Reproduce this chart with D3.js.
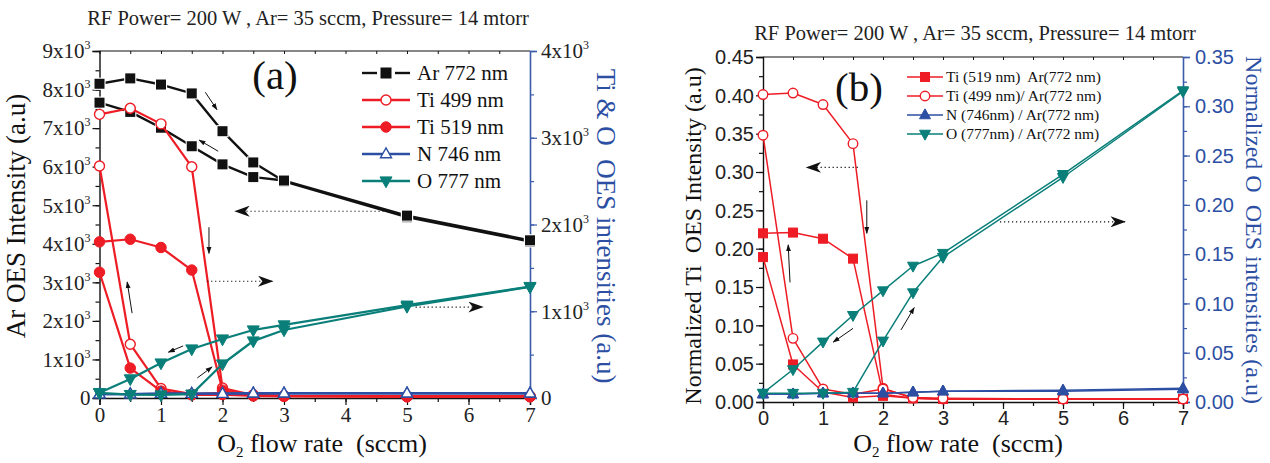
<!DOCTYPE html>
<html><head><meta charset="utf-8">
<script src="https://cdn.jsdelivr.net/npm/d3@7/dist/d3.min.js"></script>
<style>body{margin:0;background:#fff}svg{display:block}</style>
</head><body>
<svg id="c" width="1270" height="463" xmlns="http://www.w3.org/2000/svg"></svg>
<script>
// ---------------- DATA ----------------
const flow = [0, 0.5, 1, 1.5, 2, 2.5, 3, 5, 7];           // O2 flow rate (sccm)
const xTicks = [0, 1, 2, 3, 4, 5, 6, 7];
const titleText = "RF Power= 200 W , Ar= 35 sccm, Pressure= 14 mtorr";

// Panel (a): Ar on left axis, Ti/N/O on right axis (absolute intensities, a.u.)
const arInc    = [8150, 8290, 8130, 7900, 6920, 6110, 5620, 4690, 4060];
const arDec    = [7660, 7420, 7010, 6530, 6060, 5730, 5640, 4730, 4090];
const ti499Inc = [3270, 3340, 3160, 2665, 115, 35, 25, 20, 20];
const ti499Dec = [2675, 620, 110, 45, 60, 35, 25, 20, 20];
const ti519Inc = [1800, 1830, 1735, 1475, 90, 25, 20, 15, 15];
const ti519Dec = [1450, 345, 80, 35, 40, 25, 20, 15, 15];
const n746Inc  = [45, 45, 50, 50, 50, 55, 55, 55, 55];
const n746Dec  = [45, 45, 50, 50, 50, 55, 55, 55, 55];
const o777Inc  = [60, 40, 35, 45, 392, 657, 784, 1055, 1280];
const o777Dec  = [60, 220, 403, 565, 680, 784, 842, 1070, 1285];
const aLeftTicks  = [0, 1000, 2000, 3000, 4000, 5000, 6000, 7000, 8000, 9000];
const aRightTicks = [0, 1000, 2000, 3000, 4000];
const aLegend = ["Ar 772 nm", "Ti 499 nm", "Ti 519 nm", "N 746 nm", "O 777 nm"];

// Panel (b): normalized ratios; Ti on left axis, N and O on right axis
const ti519nInc = [0.220, 0.221, 0.213, 0.187, 0.010, 0.005, 0.004, 0.004, 0.004];
const ti519nDec = [0.189, 0.049, 0.013, 0.006, 0.008, 0.005, 0.004, 0.004, 0.004];
const ti499nInc = [0.401, 0.403, 0.388, 0.337, 0.018, 0.005, 0.004, 0.004, 0.004];
const ti499nDec = [0.348, 0.083, 0.017, 0.010, 0.017, 0.006, 0.005, 0.004, 0.004];
const n746nInc  = [0.008, 0.008, 0.009, 0.009, 0.009, 0.010, 0.011, 0.011, 0.013];
const n746nDec  = [0.008, 0.008, 0.009, 0.009, 0.009, 0.010, 0.011, 0.012, 0.014];
const o777nInc  = [0.009, 0.009, 0.009, 0.010, 0.062, 0.111, 0.147, 0.228, 0.315];
const o777nDec  = [0.009, 0.033, 0.061, 0.088, 0.113, 0.138, 0.151, 0.231, 0.316];
const bLeftTicks  = [0, 0.05, 0.10, 0.15, 0.20, 0.25, 0.30, 0.35, 0.40, 0.45];
const bRightTicks = [0, 0.05, 0.10, 0.15, 0.20, 0.25, 0.30, 0.35];
const bLegend = ["Ti (519 nm)\u00a0 Ar(772 nm)", "Ti (499 nm)/ Ar(772 nm)", "N (746nm) / Ar(772 nm)", "O (777nm) / Ar(772 nm)"];

// Arrow annotations in data units [x1, y1(left axis), x2, y2, dotted]
const aArrows = [
  [1.72, 7930, 1.91, 7480, 0], [1.93, 6400, 1.62, 6690, 0],
  [4.62, 4845, 2.21, 4845, 1], [1.78, 4430, 1.78, 3750, 0],
  [1.75, 3030, 2.81, 3030, 1], [0.53, 2200, 0.45, 3010, 0],
  [1.36, 1350, 1.12, 1190, 0], [1.59, 520, 1.83, 805, 0],
  [5.14, 2358, 6.23, 2358, 1]
];
const bArrows = [
  [1.58, 0.306, 0.73, 0.306, 1], [1.73, 0.263, 1.73, 0.220, 0],
  [0.45, 0.156, 0.42, 0.205, 0], [1.50, 0.096, 1.17, 0.078, 0],
  [2.30, 0.094, 2.52, 0.123, 0], [3.95, 0.235, 6.03, 0.235, 1]
];

// ---------------- STYLE ----------------
const SERIF = "'Liberation Serif','Times New Roman',serif";
const SANS = "'Liberation Sans',Arial,sans-serif";
const RED = "#ee1c25", TEAL = "#0a7f79", BLUE = "#2c4fa3", AXB = "#3a5bab", BLK = "#111";

const svg = d3.select("#c");
const defs = svg.append("defs");
defs.append("marker").attr("id", "hs").attr("viewBox", "0 0 10 10").attr("refX", 9).attr("refY", 5)
  .attr("markerWidth", 7).attr("markerHeight", 7).attr("markerUnits", "userSpaceOnUse").attr("orient", "auto")
  .append("path").attr("d", "M0,1.5 L10,5 L0,8.5 Z").attr("fill", BLK);
defs.append("marker").attr("id", "hd").attr("viewBox", "0 0 14 10").attr("refX", 13).attr("refY", 5)
  .attr("markerWidth", 16).attr("markerHeight", 11).attr("markerUnits", "userSpaceOnUse").attr("orient", "auto")
  .append("path").attr("d", "M0,0 L14,5 L0,10 L4,5 Z").attr("fill", BLK);

function marker(g, shape, cx, cy, s, color, filled, gap) {
  let el;
  if (shape === "square") {
    el = g.append("rect").attr("x", cx - s / 2).attr("y", cy - s / 2).attr("width", s).attr("height", s);
  } else if (shape === "circle") {
    el = g.append("circle").attr("cx", cx).attr("cy", cy).attr("r", s / 2);
  } else {
    const h = s * 0.9, w = s, dir = shape === "triUp" ? 1 : -1;
    el = g.append("path").attr("d",
      `M${cx},${cy - dir * h * 0.62} L${cx + w / 2},${cy + dir * h * 0.38} L${cx - w / 2},${cy + dir * h * 0.38} Z`);
  }
  el.attr("fill", filled ? color : "#fff").attr("stroke", color).attr("stroke-width", filled ? 1 : 1.4);
  if (gap) el.attr("stroke", "#fff").attr("stroke-width", 2.2).attr("paint-order", "stroke").attr("fill", color);
  return el;
}

function drawSeries(g, x, y, branches, o) {
  const line = d3.line().x(d => x(d[0])).y(d => y(d[1]));
  branches.forEach(vals => {
    g.append("path").datum(flow.map((f, i) => [f, vals[i]])).attr("d", line)
      .attr("fill", "none").attr("stroke", o.color).attr("stroke-width", o.lw).attr("stroke-linejoin", "round");
  });
  branches.forEach(vals => {
    flow.forEach((f, i) => marker(g, o.shape, x(f), y(vals[i]), o.size, o.color, o.filled, o.gap));
  });
}

function drawArrows(g, x, y, arr) {
  arr.forEach(a => {
    g.append("line").attr("x1", x(a[0])).attr("y1", y(a[1])).attr("x2", x(a[2])).attr("y2", y(a[3]))
      .attr("stroke", BLK).attr("stroke-width", a[4] ? 1.1 : 1)
      .attr("stroke-dasharray", a[4] ? "1.2,2.8" : null)
      .attr("marker-end", a[4] ? "url(#hd)" : "url(#hs)");
  });
}

function frame(g, x, y, L, R, T, B, opts) {
  const minorX = d3.range(0, 7.01, 0.5);
  g.append("g").attr("transform", `translate(0,${B})`).call(d3.axisBottom(x).tickValues(minorX).tickSize(4).tickFormat(""))
    .call(s => { s.select(".domain").remove(); s.selectAll("line").attr("stroke", BLK).attr("stroke-width", 1.2); });
  const bx = g.append("g").attr("transform", `translate(0,${B})`)
    .call(d3.axisBottom(x).tickValues(xTicks).tickSize(7).tickPadding(2).tickFormat(d3.format("d")));
  bx.select(".domain").attr("stroke", BLK).attr("stroke-width", 1.4);
  bx.selectAll("line").attr("stroke", BLK).attr("stroke-width", 1.2);
  bx.selectAll("text").attr("font-family", opts.tickFont).attr("font-size", opts.tickSize).attr("fill", "#222");
  g.append("line").attr("x1", L).attr("x2", R).attr("y1", T).attr("y2", T).attr("stroke", BLK).attr("stroke-width", 1.2);
  g.append("g").attr("transform", `translate(0,${T})`).call(d3.axisTop(x).tickValues(minorX).tickSize(-3).tickFormat(""))
    .call(s => { s.select(".domain").remove(); s.selectAll("line").attr("stroke", BLK); });
}

function leftAxis(g, y, L, ticks, minor) {
  g.append("g").attr("transform", `translate(${L},0)`).call(d3.axisLeft(y).tickValues(minor).tickSize(4).tickFormat(""))
    .call(s => { s.select(".domain").remove(); s.selectAll("line").attr("stroke", BLK).attr("stroke-width", 1.2); });
  const a = g.append("g").attr("transform", `translate(${L},0)`).call(d3.axisLeft(y).tickValues(ticks).tickSize(7).tickFormat(""));
  a.select(".domain").attr("stroke", BLK).attr("stroke-width", 1.4);
  a.selectAll("line").attr("stroke", BLK).attr("stroke-width", 1.2);
}
function rightAxis(g, y, R, ticks, minor) {
  g.append("g").attr("transform", `translate(${R},0)`).call(d3.axisRight(y).tickValues(minor).tickSize(4).tickFormat(""))
    .call(s => { s.select(".domain").remove(); s.selectAll("line").attr("stroke", AXB).attr("stroke-width", 1.2); });
  const a = g.append("g").attr("transform", `translate(${R},0)`).call(d3.axisRight(y).tickValues(ticks).tickSize(7).tickFormat(""));
  a.select(".domain").attr("stroke", AXB).attr("stroke-width", 1.6);
  a.selectAll("line").attr("stroke", AXB).attr("stroke-width", 1.2);
}

function supLabel(g, xp, yp, v, anchor, color) {
  const t = g.append("text").attr("x", xp).attr("y", yp).attr("dy", "0.35em").attr("text-anchor", anchor)
    .attr("font-family", SERIF).attr("font-size", 21).attr("fill", color);
  if (v === 0) { t.text("0"); return; }
  t.append("tspan").text(`${v / 1000}x10`);
  t.append("tspan").attr("dy", -9).attr("font-size", 12).text("3");
}

function xTitle(g, cx, by) {
  const t = g.append("text").attr("x", cx).attr("y", by).attr("text-anchor", "middle")
    .attr("font-family", SERIF).attr("font-size", 26).attr("fill", "#111");
  t.append("tspan").text("O");
  t.append("tspan").attr("dy", 5).attr("font-size", 15).text("2");
  t.append("tspan").attr("dy", -5).text("\u00a0flow rate \u00a0(sccm)");
}

// ================= PANEL (a) =================
{
  const L = 99.5, R = 530, T = 51, B = 398;
  const g = svg.append("g");
  const x = d3.scaleLinear().domain([0, 7]).range([L, R]);
  const yL = d3.scaleLinear().domain([0, 9000]).range([B, T]);
  const yR = d3.scaleLinear().domain([0, 4000]).range([B, T]);

  g.append("text").attr("x", 308).attr("y", 25).attr("text-anchor", "middle").attr("font-family", SERIF)
    .attr("font-size", 20.5).attr("fill", "#222").text(titleText);

  frame(g, x, yL, L, R, T, B, { tickFont: SERIF, tickSize: 21 });
  leftAxis(g, yL, L, aLeftTicks, d3.range(0, 9001, 500));
  rightAxis(g, yR, R, aRightTicks, d3.range(0, 4001, 500));
  aLeftTicks.forEach(v => supLabel(g, L - 9, yL(v), v, "end", "#222"));
  aRightTicks.forEach(v => supLabel(g, R + 11, yR(v), v, "start", "#222"));

  g.append("text").attr("transform", `translate(25,216) rotate(-90)`).attr("text-anchor", "middle")
    .attr("font-family", SERIF).attr("font-size", 27).attr("fill", "#111").text("Ar OES Intensity (a.u)");
  g.append("text").attr("transform", `translate(597,226) rotate(90)`).attr("text-anchor", "middle")
    .attr("font-family", SERIF).attr("font-size", 27).attr("fill", BLUE)
    .text("Ti & O\u00a0 OES intensities (a.u)");
  xTitle(g, 322, 452);

  const pg = g.append("g");
  drawSeries(pg, x, yL, [arInc, arDec], { color: BLK, lw: 2.4, shape: "square", size: 10, filled: true, gap: true });
  drawSeries(pg, x, yR, [ti499Inc, ti499Dec], { color: RED, lw: 2.2, shape: "circle", size: 10, filled: false });
  drawSeries(pg, x, yR, [ti519Inc, ti519Dec], { color: RED, lw: 2.2, shape: "circle", size: 10.5, filled: true });
  drawSeries(pg, x, yR, [n746Inc, n746Dec], { color: BLUE, lw: 2.4, shape: "triUp", size: 11, filled: false });
  drawSeries(pg, x, yR, [o777Inc, o777Dec], { color: TEAL, lw: 2.2, shape: "triDown", size: 12, filled: true });
  drawArrows(pg, x, yL, aArrows);

  g.append("text").attr("x", 275).attr("y", 89).attr("text-anchor", "middle").attr("font-family", SERIF)
    .attr("font-size", 41).attr("fill", "#111").text("(a)");

  const legStyles = [
    { color: BLK, shape: "square", filled: true, gap: true, s: 10 },
    { color: RED, shape: "circle", filled: false, s: 10 },
    { color: RED, shape: "circle", filled: true, s: 10.5 },
    { color: BLUE, shape: "triUp", filled: false, s: 11 },
    { color: TEAL, shape: "triDown", filled: true, s: 12 }
  ];
  const legY = d3.scalePoint().domain(aLegend).range([73, 181]);
  aLegend.forEach((name, i) => {
    const st = legStyles[i], cy = legY(name);
    if (st.gap) {
      g.append("line").attr("x1", 362).attr("x2", 377).attr("y1", cy).attr("y2", cy).attr("stroke", BLK).attr("stroke-width", 2.4);
      g.append("line").attr("x1", 395).attr("x2", 410).attr("y1", cy).attr("y2", cy).attr("stroke", BLK).attr("stroke-width", 2.4);
    } else {
      g.append("line").attr("x1", 362).attr("x2", 410).attr("y1", cy).attr("y2", cy).attr("stroke", st.color).attr("stroke-width", 2.4);
    }
    marker(g, st.shape, 386, cy, st.s, st.color, st.filled, false);
    g.append("text").attr("x", 417).attr("y", cy).attr("dy", "0.33em").attr("font-family", SERIF)
      .attr("font-size", 21).attr("fill", "#111").text(name);
  });
}

// ================= PANEL (b) =================
{
  const L = 763, R = 1183, T = 57, B = 402;
  const g = svg.append("g");
  const x = d3.scaleLinear().domain([0, 7]).range([L, R]);
  const yL = d3.scaleLinear().domain([0, 0.45]).range([B, T]);
  const yR = d3.scaleLinear().domain([0, 0.35]).range([B, T]);

  g.append("text").attr("x", 975).attr("y", 40).attr("text-anchor", "middle").attr("font-family", SERIF)
    .attr("font-size", 20.5).attr("fill", "#222").text(titleText);

  frame(g, x, yL, L, R, T, B, { tickFont: SANS, tickSize: 20 });
  leftAxis(g, yL, L, bLeftTicks, d3.range(0, 0.4501, 0.025));
  rightAxis(g, yR, R, bRightTicks, d3.range(0, 0.3501, 0.025));
  const f2 = d3.format(".2f");
  bLeftTicks.forEach(v => g.append("text").attr("x", L - 9).attr("y", yL(v)).attr("dy", "0.36em")
    .attr("text-anchor", "end").attr("font-family", SANS).attr("font-size", 20).attr("fill", "#222").text(f2(v)));
  bRightTicks.forEach(v => g.append("text").attr("x", R + 12).attr("y", yR(v)).attr("dy", "0.36em")
    .attr("text-anchor", "start").attr("font-family", SANS).attr("font-size", 20).attr("fill", BLUE).text(f2(v)));

  g.append("text").attr("transform", `translate(701,236) rotate(-90)`).attr("text-anchor", "middle")
    .attr("font-family", SERIF).attr("font-size", 24).attr("fill", "#111").text("Normalized Ti\u00a0 OES Intensity (a.u)");
  g.append("text").attr("transform", `translate(1246,230) rotate(90)`).attr("text-anchor", "middle")
    .attr("font-family", SERIF).attr("font-size", 24).attr("fill", BLUE).text("Normalized O\u00a0 OES intensities (a.u)");
  xTitle(g, 958, 452);

  const pg = g.append("g");
  drawSeries(pg, x, yL, [ti519nInc, ti519nDec], { color: RED, lw: 1.5, shape: "square", size: 9, filled: true });
  drawSeries(pg, x, yL, [ti499nInc, ti499nDec], { color: RED, lw: 1.5, shape: "circle", size: 9.5, filled: false });
  drawSeries(pg, x, yR, [n746nInc, n746nDec], { color: BLUE, lw: 1.5, shape: "triUp", size: 11, filled: true });
  drawSeries(pg, x, yR, [o777nInc, o777nDec], { color: TEAL, lw: 1.5, shape: "triDown", size: 11, filled: true });
  drawArrows(pg, x, yL, bArrows);

  g.append("text").attr("x", 859).attr("y", 101).attr("text-anchor", "middle").attr("font-family", SERIF)
    .attr("font-size", 41).attr("fill", "#111").text("(b)");

  const legStyles = [
    { color: RED, shape: "square", filled: true, s: 9 },
    { color: RED, shape: "circle", filled: false, s: 9.5 },
    { color: BLUE, shape: "triUp", filled: true, s: 11 },
    { color: TEAL, shape: "triDown", filled: true, s: 11 }
  ];
  const legY = d3.scalePoint().domain(bLegend).range([77, 134]);
  bLegend.forEach((name, i) => {
    const st = legStyles[i], cy = legY(name);
    g.append("line").attr("x1", 907).attr("x2", 943).attr("y1", cy).attr("y2", cy).attr("stroke", st.color).attr("stroke-width", 1.5);
    marker(g, st.shape, 925, cy, st.s, st.color, st.filled, false);
    g.append("text").attr("x", 946).attr("y", cy).attr("dy", "0.33em").attr("font-family", SERIF)
      .attr("font-size", 15.5).attr("fill", "#111").text(name);
  });
}
</script>
</body></html>
